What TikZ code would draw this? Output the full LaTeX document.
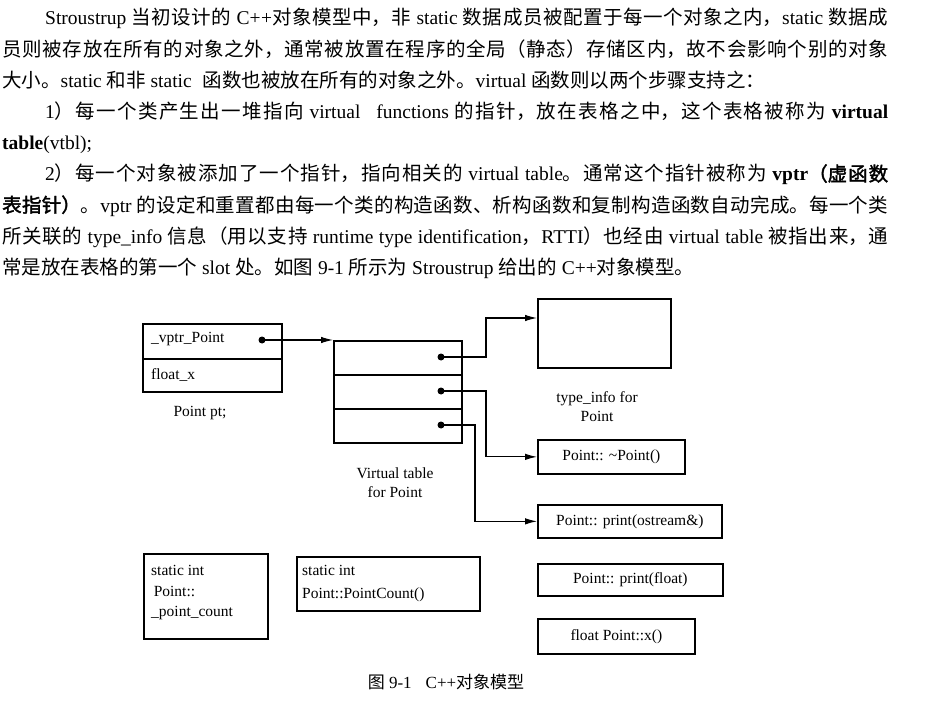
\documentclass[tikz,border=0pt]{standalone}
\usepackage{fontspec}
\setmainfont{Liberation Serif}
\newfontfamily\zh{Noto Sans CJK SC}
\newfontfamily\zhb{Noto Sans CJK SC}[FakeBold=2]
\usetikzlibrary{arrows.meta}
% allow stretchable glue between CJK characters so lines can be justified
\XeTeXlinebreaklocale "zh"
\XeTeXlinebreakskip=0pt plus 3pt
\newcommand\Z[1]{{\zh#1}}
\newcommand\ZB[1]{{\zhb#1}}
% one justified line of the given width
\newcommand\jline[2]{\parbox[b]{#1}{\parindent=0pt\parfillskip=0pt\tolerance=10000\hyphenpenalty=10000\relax #2}}

\tikzset{
  box/.style={draw, line width=1.7pt, inner sep=0pt, anchor=north west},
  boxtext/.style={box, font=\fontsize{15.5}{19}\selectfont},
  dot/.style={circle, fill, inner sep=0pt, minimum size=7pt},
  arr/.style={line width=1.1pt, -{Latex[length=12pt,width=6.5pt]}},
  lbl/.style={inner sep=0pt, align=center, font=\fontsize{15.5}{19}\selectfont},
  para/.style={anchor=base west, inner sep=0pt, font=\fontsize{19.5}{20}\selectfont},
}

\begin{document}
\begin{tikzpicture}[x=1pt, y=-1pt]
\path[use as bounding box] (0,0) rectangle (944,708);

% ---------- running text ----------
\node[para] (p1) at (45,25) {\jline{843pt}{Stroustrup \Z{当初设计的} C++\Z{对象模型中，非} static \Z{数据成员被配置于每一个对象之内，}static \Z{数据成}}};
\node[para] (p2) at (2,56.2) {\jline{886pt}{\Z{员则被存放在所有的对象之外，通常被放置在程序的全局（静态）存储区内，故不会影响个别的对象}}};
\node[para] (p3) at (2,87.4) {\Z{大小。}static \Z{和非} static\hspace{6pt} \Z{函数也被放在所有的对象之外。}virtual \Z{函数则以两个步骤支持之：}};
\node[para] (p4) at (45,118.6) {\jline{843pt}{1\Z{）每一个类产生出一堆指向} virtual\hspace{10pt} functions \Z{的指针，放在表格之中，这个表格被称为} \textbf{virtual}}};
\node[para] (p5) at (2,149.8) {\textbf{table}(vtbl);};
\node[para] (p6) at (45,181) {\jline{843pt}{2\Z{）每一个对象被添加了一个指针，指向相关的} virtual table\Z{。通常这个指针被称为} \textbf{vptr}\ZB{（虚函数}}};
\node[para] (p7) at (2,212.2) {\jline{886pt}{\ZB{表指针）}\Z{。}vptr \Z{的设定和重置都由每一个类的构造函数、析构函数和复制构造函数自动完成。每一个类}}};
\node[para] (p8) at (2,243.4) {\jline{886pt}{\Z{所关联的} type\_info \Z{信息（用以支持} runtime type identification\Z{，}RTTI\Z{）也经由} virtual table \Z{被指出来，通}}};
\node[para] (p9) at (2,274.6) {\Z{常是放在表格的第一个} slot \Z{处。如图} 9-1 \Z{所示为} Stroustrup \Z{给出的} C++\Z{对象模型。}};

% ---------- object Point pt ----------
\node[box, minimum width=139pt, minimum height=35pt] (vp) at (142,323) {};
\node[box, minimum width=139pt, minimum height=33pt] (fx) at (142,358) {};
\node[lbl, anchor=west] (vpT) at (151,339) {\_vptr\_Point};
\node[lbl, anchor=west] (fxT) at (151,375) {float\_x};
\node[lbl] (ptT) at (200,413) {Point pt;};
\node[dot] (d0) at (262,340) {};

% ---------- virtual table ----------
\node[box, minimum width=128pt, minimum height=34pt] (vt1) at (333,340) {};
\node[box, minimum width=128pt, minimum height=34pt] (vt2) at (333,374) {};
\node[box, minimum width=128pt, minimum height=34pt] (vt3) at (333,408) {};
\node[dot] (v1) at (441,357) {};
\node[dot] (v2) at (441,391) {};
\node[dot] (v3) at (441,425) {};
\node[lbl] (vtT) at (395,483) {Virtual table\\for Point};

% ---------- type info and member functions ----------
\node[box, minimum width=133pt, minimum height=69pt] (ti) at (537,298) {};
\coordinate (tiIn) at (537,318);
\node[lbl] (tiT) at (597,407) {type\_info for\\Point};
\node[boxtext, minimum width=147pt, minimum height=34pt] (dt) at (537,439) {Point:: \textasciitilde Point()};
\node[boxtext, minimum width=184pt, minimum height=33pt] (po) at (537,504) {Point:: print(ostream\&)};
\node[boxtext, minimum width=185pt, minimum height=32pt] (pf) at (537,563) {Point:: print(float)};
\node[boxtext, minimum width=157pt, minimum height=35pt] (px) at (537,618) {float Point::x()};

% ---------- static members ----------
\node[box, minimum width=124pt, minimum height=85pt] (s1) at (143,553) {};
\node[lbl, anchor=west, align=left, font=\fontsize{15.5}{20.5}\selectfont] (s1T) at (151,593) {static int\\\,Point::\\\_point\_count};
\node[box, minimum width=183pt, minimum height=54pt] (s2) at (296,556) {};
\node[lbl, anchor=west, align=left, font=\fontsize{15.5}{23}\selectfont] (s2T) at (302,584) {static int\\Point::PointCount()};

% ---------- pointers ----------
\draw[arr] (d0.center) -- (vt1.north west);
\draw[arr] (v1.center) -| ([xshift=-51pt]tiIn) -- (tiIn);
\draw[arr] (v2.center) -| ([xshift=-51pt]dt.west) -- (dt.west);
\draw[arr] (v3.center) -| ([xshift=-62pt]po.west) -- (po.west);

% ---------- caption ----------
\node[inner sep=0pt, font=\fontsize{17}{20}\selectfont] (cap) at (446,682) {\Z{图} 9-1\hspace{14pt}C++\Z{对象模型}};
\end{tikzpicture}
\end{document}
